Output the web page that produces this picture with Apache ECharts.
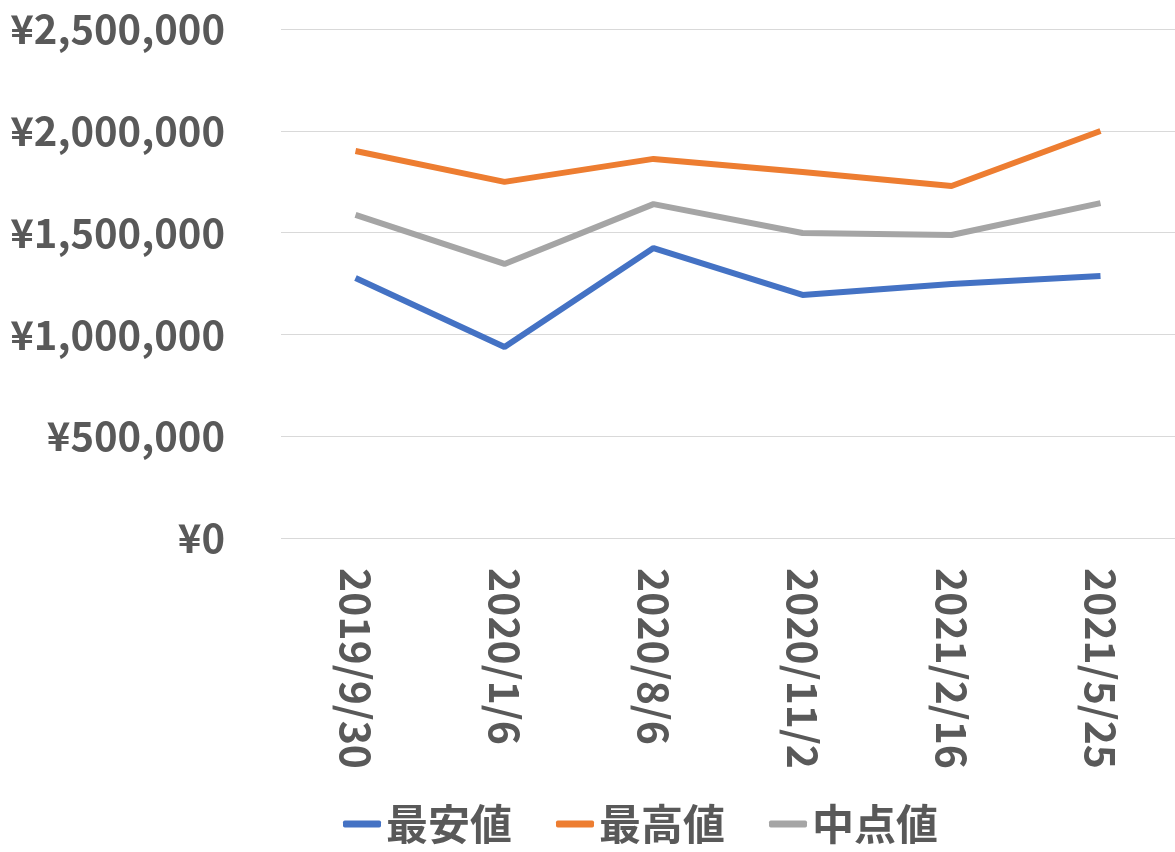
<!DOCTYPE html>
<html><head><meta charset="utf-8">
<script src="https://cdn.jsdelivr.net/npm/echarts@6/dist/echarts.min.js"></script>
<style>html,body{margin:0;padding:0;background:#fff}#c{width:1175px;height:852px}</style>
</head><body><div id="c"></div>
<script>
const categories = ['2019/9/30','2020/1/6','2020/8/6','2020/11/2','2021/2/16','2021/5/25'];
const minVals = [1277000, 938000, 1424000, 1194000, 1248000, 1287000];
const maxVals = [1901000, 1749000, 1862000, 1798000, 1729000, 1999000];
const midVals = [1587000, 1346000, 1640000, 1498000, 1488000, 1645000];
const font = '"Noto Sans CJK JP", "Noto Sans", sans-serif';
const chart = echarts.init(document.getElementById('c'));
const mk = (name, data, color) => ({name, type:'line', data, symbol:'none', lineStyle:{width:6, color}, itemStyle:{color}});
chart.setOption({
  animation:false,
  textStyle:{fontFamily:font},
  grid:{left:281, right:-23, top:29, bottom:314},
  legend:{bottom:2, left:338, itemWidth:38, itemHeight:7, itemGap:44,
    icon:'roundRect',
    textStyle:{fontSize:42, fontWeight:'bold', color:'#595959', fontFamily:font},
    data:['最安値','最高値','中点値']},
  xAxis:{type:'category', data:categories, boundaryGap:true,
    axisLine:{show:false}, axisTick:{show:false},
    axisLabel:{rotate:-90, fontSize:41, fontWeight:'bold', color:'#595959', margin:30, fontFamily:font}},
  yAxis:{type:'value', min:0, max:2500000, interval:500000,
    splitLine:{lineStyle:{color:'#d9d9d9', width:1}},
    axisLabel:{fontSize:40, fontWeight:'bold', color:'#595959', margin:56, fontFamily:font,
      formatter:v=>'¥'+v.toLocaleString('en-US')}},
  series:[mk('最安値',minVals,'#4472c4'), mk('最高値',maxVals,'#ed7d31'), mk('中点値',midVals,'#a5a5a5')]
});
</script></body></html>
